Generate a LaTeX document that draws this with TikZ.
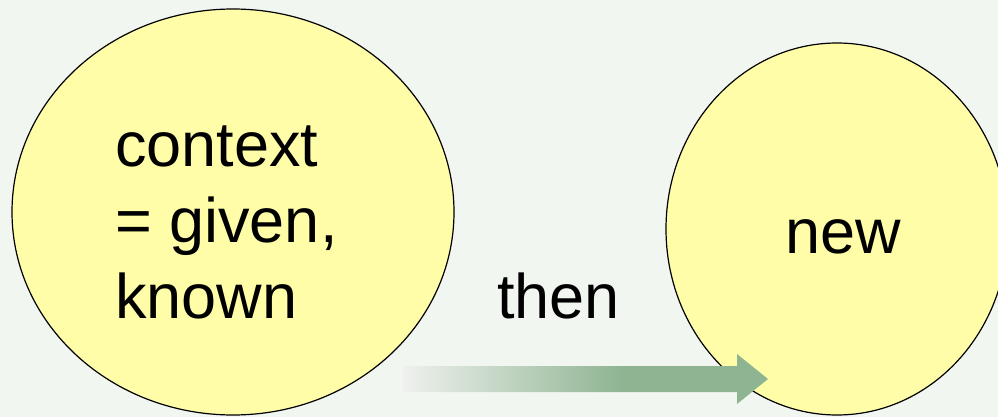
\documentclass[tikz,border=0pt]{standalone}
\usepackage{fontspec}
\setmainfont{Liberation Sans}
\usetikzlibrary{shapes.geometric}
\definecolor{bgc}{HTML}{F2F6F1}
\definecolor{yel}{HTML}{FFFDA8}
\definecolor{agreen}{HTML}{8FB492}
\definecolor{afade}{HTML}{EEF1ED}
\pgfdeclarehorizontalshading{arrowfade}{100bp}{color(0bp)=(afade); color(25bp)=(afade); color(55bp)=(agreen); color(100bp)=(agreen)}
\tikzset{
  bubble/.style={ellipse, draw=black, line width=1.2pt, fill=yel, inner sep=0pt},
  bigtext/.style={font=\fontsize{63}{76}\selectfont, inner sep=0pt, text=black}
}
\begin{document}
\begin{tikzpicture}[x=1pt,y=-1pt]
\useasboundingbox (0,0) rectangle (998,417);
\clip (0,0) rectangle (998,417);
\fill[bgc] (0,0) rectangle (998,417);
\node[bubble, minimum width=442pt, minimum height=406pt] (ctx) at (233,212) {};
\node[bubble, minimum width=342pt, minimum height=372pt] (new) at (837,229) {};
\node[bigtext, anchor=west, align=left] (ctxt) at (115,222) {context\\= given,\\known};
\node[bigtext, anchor=base] (newt) at (843,253) {new};
\node[bigtext, anchor=base west] (then) at (497,318) {then};
\coordinate (as) at (403,379);
\coordinate (ae) at (768,379);
\shade[shading=arrowfade] (as) ++(0,-13) -- ++(334,0) -- ++(0,-12) -- (ae) -- ++(-31,25) -- ++(0,-12) -- ++(-334,0) -- cycle;
\end{tikzpicture}
\end{document}
